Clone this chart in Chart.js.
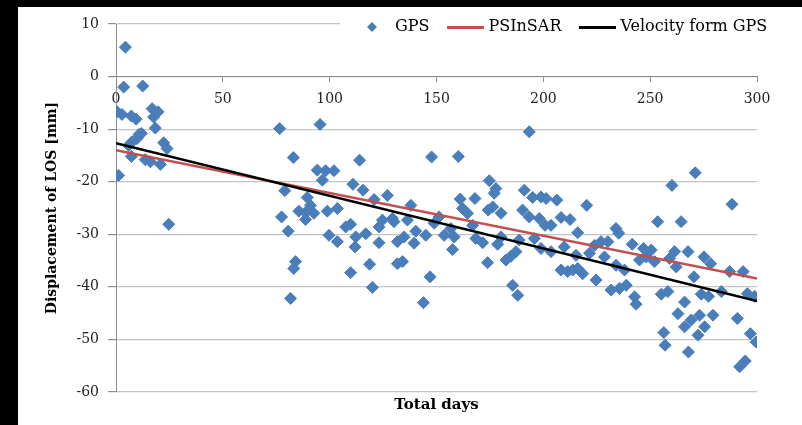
<!DOCTYPE html>
<html>
<head>
<meta charset="utf-8">
<script src="https://cdn.jsdelivr.net/npm/chart.js@4.4.1/dist/chart.umd.min.js"></script>
<style>
  body { margin: 0; background: #000; }
  canvas { display: block; }
</style>
</head>
<body>
<canvas id="myChart" width="802" height="425"></canvas>
<script>
// GPS observations: day number and LOS displacement (mm)
var gpsDays = [0.5, 1.2, 2.8, 3.6, 4.4, 5.9, 7.2, 7.2, 7.5, 9.4, 9.8, 10.8, 11.9, 12.5, 13.7, 16.1, 16.9, 17.6, 18.4, 19.7, 20.8, 22.3, 23.9, 24.7,
  76.6, 77.5, 79, 80.6, 81.7, 83, 83.2, 84, 85.6, 88.7, 88.7, 89.5, 91, 92.6, 94.2, 95.5, 96.6, 98.1, 98.9, 99.7, 102, 103.6, 103.6,
  107.5, 109.8, 109.8, 110.9, 111.9, 112.2, 114, 115.6, 116.9, 118.7, 120, 120.8, 123.1, 123.1, 124.7, 127, 129.4, 130.1, 131.7, 131.7,
  134.1, 134.8, 136.4, 138, 139.5, 140.3, 143.9, 145, 147, 147.7, 148.9, 151.2, 153.6, 156.7, 157.5, 158.3, 160.2, 161.1, 162.2, 164.5,
  166.9, 168, 168.4, 171.6, 173.9, 174.2, 174.7, 176.3, 177, 177.8, 178.6, 180.2, 180.2, 182.5, 184.8, 185.6, 187.2, 188, 188.7, 190.3,
  191.1, 193.4, 193.4, 195, 195.8, 198.1, 198.9, 198.9, 200.8, 201.3, 203.6, 203.6, 206.3, 208.3, 208.3, 209.8, 211.4, 212.5, 213.8,
  215.3, 216.1, 216.1, 218.4, 220.3, 221.6, 224, 224.7, 227, 228.6, 230.2, 231.7, 234, 234, 235.3, 235.6, 238, 238.8, 241.6, 242.7,
  243.4, 245, 246.9, 248.1, 250.5, 252, 253.5, 255.2, 256.4, 257, 258.3, 259.1, 260.2, 261.4, 262.2, 263, 264.5, 266.1, 266.1, 267.7,
  267.9, 269.2, 270.5, 271.1, 272.4, 273.1, 273.9, 275.2, 275.5, 277.3, 278.3, 279.4, 283.3, 287.2, 288.3, 290.8, 291.9, 293.5, 294.5,
  295.5, 296.9, 298.9, 299.6];
var gpsDisp = [-6.7, -18.8, -7.2, -2.0, 5.6, -13.1, -7.5, -15.2, -12.4, -8.1, -11.8, -11.0, -10.8, -1.8, -15.8, -16.2, -6.1, -7.7, -9.8, -6.7, -16.7, -12.6, -13.7, -28.1,
  -9.9, -26.7, -21.7, -29.4, -42.2, -15.4, -36.5, -35.2, -25.6, -25.9, -27.2, -23, -24.5, -26, -17.8, -9.1, -19.7, -17.9, -25.6, -30.2, -17.9, -25.1, -31.4,
  -28.6, -28.1, -37.3, -20.5, -32.4, -30.5, -15.9, -21.6, -29.9, -35.7, -40.1, -23.4, -28.6, -31.6, -27.3, -22.6, -27, -27.6, -31.4, -35.6,
  -35.2, -30.5, -27.3, -24.5, -31.7, -29.4, -43, -30.2, -38.1, -15.3, -27.9, -26.7, -30.2, -28.9, -32.9, -30.5, -15.2, -23.3, -25.1, -26,
  -28.3, -23.2, -30.8, -31.6, -35.4, -25.4, -19.8, -24.8, -22.2, -21.3, -31.9, -26, -30.5, -34.9, -34.2, -39.7, -33.3, -41.6, -31.1, -25.4,
  -21.6, -10.5, -26.7, -23, -30.8, -27, -22.9, -32.7, -28.3, -23.2, -28.3, -33.3, -23.5, -26.8, -36.8, -32.4, -37.1, -27.2, -36.8,
  -34, -29.7, -36.5, -37.5, -24.5, -33.6, -32.1, -38.7, -31.4, -34.3, -31.4, -40.6, -28.9, -35.9, -29.8, -40.3, -36.8, -39.7, -31.9, -41.9,
  -43.3, -34.9, -32.7, -34.3, -33, -35.2, -27.6, -41.4, -48.7, -51.1, -40.9, -34.6, -20.7, -33.3, -36.2, -45.1, -27.6, -42.9, -47.6, -33.3,
  -52.4, -46.3, -38.1, -18.3, -49.2, -45.4, -41.4, -34.3, -47.6, -41.8, -35.6, -45.4, -40.9, -37.1, -24.3, -46, -55.2, -37.1, -54.1,
  -41.3, -48.9, -41.8, -50.5];

// PSInSAR trend and GPS velocity line (end points)
var psDays = [0, 300];
var psDisp = [-14.0, -38.4];
var velDays = [0, 300];
var velDisp = [-12.7, -42.7];

var seriesNames = ['GPS', 'PSInSAR', 'Velocity form GPS'];
var xMin = 0, xMax = 300, xStep = 50;
var yMin = -60, yMax = 10, yStep = 10;

function toPoints(xs, ys) {
  return xs.map(function (x, i) { return { x: x, y: ys[i] }; });
}

// small pictures used as legend markers
function makeIcon(type, color) {
  var c = document.createElement('canvas');
  var g;
  if (type === 'diamond') {
    c.width = 12; c.height = 12;
    g = c.getContext('2d');
    g.fillStyle = color;
    g.beginPath();
    g.moveTo(6, 1); g.lineTo(11, 6); g.lineTo(6, 11); g.lineTo(1, 6);
    g.closePath();
    g.fill();
  } else {
    c.width = 37; c.height = 3;
    g = c.getContext('2d');
    g.fillStyle = color;
    g.fillRect(0, 0, 37, 3);
  }
  return c;
}

var blue = '#4a7ebb', red = '#c0504d', black = '#000000';
var legendIcons = [makeIcon('diamond', blue), makeIcon('line', red), makeIcon('line', black)];
var serif = 'DejaVu Serif';

// black frame with the white panel
var framePlugin = {
  id: 'frame',
  beforeDraw: function (chart) {
    var ctx = chart.ctx;
    ctx.save();
    ctx.fillStyle = '#000';
    ctx.fillRect(0, 0, chart.width, chart.height);
    ctx.fillStyle = '#fff';
    ctx.fillRect(18, 7, chart.width - 18, chart.height - 7);
    ctx.restore();
  },
  afterLayout: function (chart) {
    // legend sits over the top of the plot, like the excel one
    var l = chart.legend;
    l.left = 336; l.right = 900; l.top = -2; l.bottom = 50;
  },
  afterDatasetsDraw: function (chart) {
    var ctx = chart.ctx;
    ctx.save();
    ctx.fillStyle = '#fff';
    ctx.fillRect(340, 12, chart.width - 340, 28);
    ctx.restore();
    chart.legend.draw();
  }
};

var ctx = document.getElementById('myChart').getContext('2d');
var myChart = new Chart(ctx, {
  type: 'scatter',
  data: {
    datasets: [{
      label: seriesNames[0],
      data: toPoints(gpsDays, gpsDisp),
      pointStyle: 'rectRot',
      pointRadius: 6,
      backgroundColor: blue,
      borderColor: blue,
      borderWidth: 1,
      order: 2
    }, {
      label: seriesNames[1],
      data: toPoints(psDays, psDisp),
      showLine: true,
      borderColor: red,
      backgroundColor: red,
      borderWidth: 2.5,
      pointRadius: 0,
      order: 1
    }, {
      label: seriesNames[2],
      data: toPoints(velDays, velDisp),
      showLine: true,
      borderColor: black,
      backgroundColor: black,
      borderWidth: 2.5,
      pointRadius: 0,
      order: 0
    }]
  },
  options: {
    responsive: false,
    animation: false,
    devicePixelRatio: 1,
    layout: { padding: { left: 18, top: 23, right: 45, bottom: 0 } },
    plugins: {
      tooltip: { enabled: false },
      legend: {
        position: 'top',
        align: 'start',
        maxHeight: 1,
        labels: {
          usePointStyle: true,
          pointStyleWidth: 30,
          padding: 21,
          color: '#000',
          font: { family: serif, size: 16 },
          generateLabels: function (chart) {
            var items = Chart.defaults.plugins.legend.labels.generateLabels(chart);
            items.sort(function (a, b) { return a.datasetIndex - b.datasetIndex; });
            items.forEach(function (it) { it.pointStyle = legendIcons[it.datasetIndex]; });
            return items;
          }
        }
      }
    },
    scales: {
      x: {
        type: 'linear',
        position: 'bottom',
        min: xMin, max: xMax,
        grid: { display: false },
        border: { display: false },
        ticks: { display: false },
        title: {
          display: true, text: 'Total days', color: '#000',
          font: { family: serif, size: 15, weight: 'bold' },
          padding: { top: 0, bottom: 11 }
        },
        afterFit: function (scale) { scale.height = 33; }
      },
      // axis with the day labels, crossing at zero
      x2: {
        type: 'linear',
        position: { y: 0 },
        min: xMin, max: xMax,
        ticks: { stepSize: xStep, padding: 9, color: '#222', font: { family: serif, size: 14 } },
        grid: { drawOnChartArea: false, tickLength: 5, tickColor: '#8c8c8c' },
        border: { color: '#8c8c8c', width: 1 }
      },
      y: {
        type: 'linear',
        min: yMin, max: yMax,
        ticks: { stepSize: yStep, padding: 9, color: '#222', font: { family: serif, size: 14 } },
        grid: { color: '#c4c4c4', lineWidth: 1.2, tickLength: 8, tickColor: '#8c8c8c' },
        border: { color: '#8c8c8c', width: 1 },
        title: {
          display: true, text: 'Displacement of LOS [mm]', color: '#000',
          font: { family: serif, size: 14, weight: 'bold' },
          padding: { top: 26, bottom: 0 }
        },
        afterFit: function (scale) { scale.width = 98; }
      }
    }
  },
  plugins: [framePlugin]
});
</script>
</body>
</html>
